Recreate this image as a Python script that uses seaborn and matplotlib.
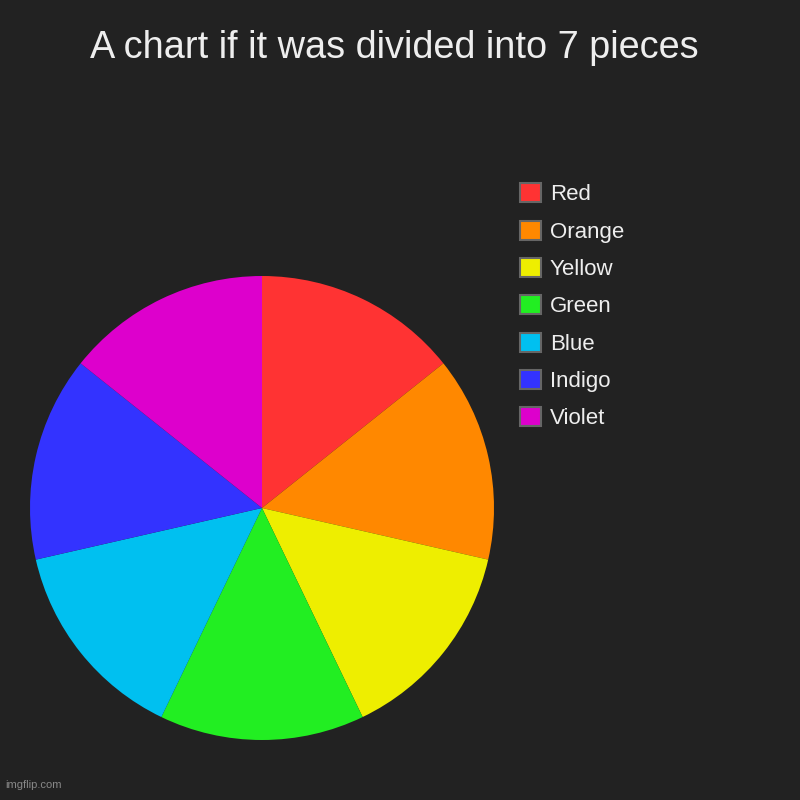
import matplotlib
matplotlib.use("Agg")
import matplotlib.pyplot as plt
import seaborn as sns
from matplotlib.patches import Patch

# Dados
labels = ['Red', 'Orange', 'Yellow', 'Green', 'Blue', 'Indigo', 'Violet']
values = [1, 1, 1, 1, 1, 1, 1]
colors = ['#ff3333', '#ff8800', '#eeee00', '#22ee22', '#00c0f0', '#3333ff', '#dd00cc']

bg = '#222222'
txt = '#eeeeee'

sns.set_theme(style='dark')
plt.rcParams['font.family'] = ['Liberation Sans', 'DejaVu Sans']

fig = plt.figure(figsize=(8, 8), dpi=100, facecolor=bg)

# pizza
ax = fig.add_axes([0.0375, 0.075, 0.58, 0.58])
ax.set_facecolor(bg)
ax.pie(values, colors=colors, startangle=90, counterclock=False,
       wedgeprops={'linewidth': 0})
ax.set_xlim(-1, 1)
ax.set_ylim(-1, 1)
ax.set_aspect('equal')
ax.axis('off')

# legenda
handles = [Patch(facecolor=c, edgecolor='#666666', linewidth=1.5) for c in colors]
fig.legend(handles, labels, loc='upper left', bbox_to_anchor=(0.65, 0.771),
           frameon=False, fontsize=16, labelcolor=txt,
           handlelength=0.95, handleheight=0.95, handletextpad=0.4,
           labelspacing=0.68, borderpad=0, borderaxespad=0)

fig.text(0.4925, 0.94, 'A chart if it was divided into 7 pieces',
         ha='center', va='center', fontsize=27.3, color=txt)
fig.text(0.006, 0.012, 'imgflip.com', ha='left', va='bottom',
         fontsize=8, color='#888888')

fig.savefig('out.png', dpi=100, facecolor=bg)
